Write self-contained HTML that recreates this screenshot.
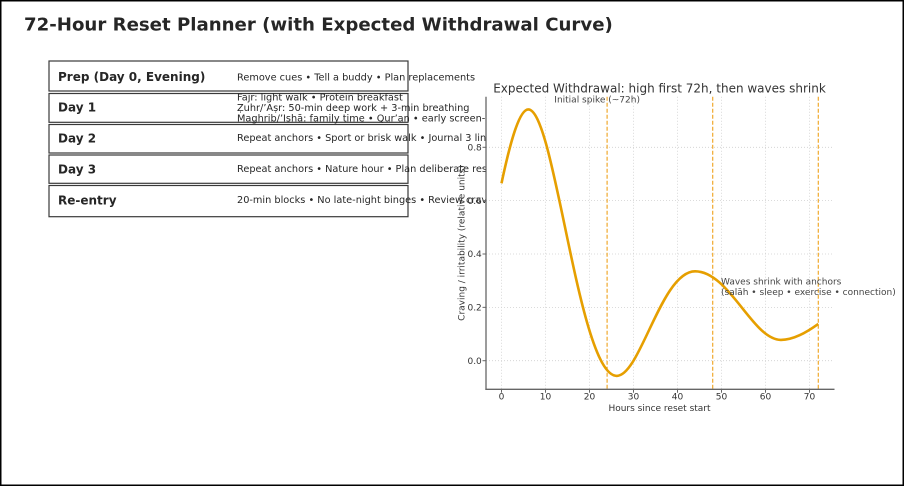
<!DOCTYPE html>
<html>
<head>
<meta charset="utf-8">
<style>
  html,body{margin:0;padding:0;background:#fff;}
  svg{display:block;}
  text{font-family:"DejaVu Sans","Liberation Sans",sans-serif;}
</style>
</head>
<body>
<svg width="904" height="486" viewBox="0 0 904 486" xmlns="http://www.w3.org/2000/svg">
  <rect x="0" y="0" width="904" height="486" fill="#fff"/>
  <rect x="0.75" y="0.75" width="902.5" height="484.5" fill="none" stroke="#000" stroke-width="1.5"/>

  <!-- Main title -->
  <text x="24" y="30.5" font-size="18.15" font-weight="bold" fill="#262626">72-Hour Reset Planner (with Expected Withdrawal Curve)</text>

  <!-- Table -->
  <g fill="none" stroke="#3a3a3a" stroke-width="1.2">
    <rect x="49" y="61" width="359" height="30"/>
    <rect x="49" y="93.5" width="359" height="28.8"/>
    <rect x="49" y="124.5" width="359" height="28.5"/>
    <rect x="49" y="155" width="359" height="28.3"/>
    <rect x="49" y="185.5" width="359" height="31.2"/>
  </g>
  <g font-size="12" font-weight="bold" fill="#262626">
    <text x="58" y="81">Prep (Day 0, Evening)</text>
    <text x="58" y="111.6">Day 1</text>
    <text x="58" y="142.6">Day 2</text>
    <text x="58" y="173.3">Day 3</text>
    <text x="58" y="204.3">Re-entry</text>
  </g>
  <g font-size="9.75" fill="#262626">
    <text x="237" y="80.3">Remove cues • Tell a buddy • Plan replacements</text>
    <text x="237" y="100.3">Fajr: light walk • Protein breakfast</text>
    <text x="237" y="110.9">Ẓuhr/’Aṣr: 50-min deep work + 3-min breathing</text>
    <text x="237" y="121.5">Maghrib/’Ishā: family time • Qur’an • early screen-off</text>
    <text x="237" y="141">Repeat anchors • Sport or brisk walk • Journal 3 lines</text>
    <text x="237" y="172">Repeat anchors • Nature hour • Plan deliberate rest</text>
    <text x="237" y="203">20-min blocks • No late-night binges • Review cravings</text>
  </g>

  <!-- Axes background (covers table overflow) -->
  <rect x="486" y="96.7" width="349" height="292.6" fill="#fff"/>

  <!-- Grid -->
  <g stroke="#cfcfcf" stroke-width="0.8" stroke-dasharray="1,2">
    <line x1="501.5" y1="96.7" x2="501.5" y2="389.3"/>
    <line x1="545.5" y1="96.7" x2="545.5" y2="389.3"/>
    <line x1="589.5" y1="96.7" x2="589.5" y2="389.3"/>
    <line x1="633.5" y1="96.7" x2="633.5" y2="389.3"/>
    <line x1="677.5" y1="96.7" x2="677.5" y2="389.3"/>
    <line x1="721.5" y1="96.7" x2="721.5" y2="389.3"/>
    <line x1="765.5" y1="96.7" x2="765.5" y2="389.3"/>
    <line x1="809.5" y1="96.7" x2="809.5" y2="389.3"/>
    <line x1="486" y1="360.7" x2="834" y2="360.7"/>
    <line x1="486" y1="307.35" x2="834" y2="307.35"/>
    <line x1="486" y1="254" x2="834" y2="254"/>
    <line x1="486" y1="200.65" x2="834" y2="200.65"/>
    <line x1="486" y1="147.3" x2="834" y2="147.3"/>
  </g>

  <!-- Dashed vertical lines -->
  <g stroke="#f0a92e" stroke-width="1.2" stroke-dasharray="4,2">
    <line x1="607.1" y1="96.7" x2="607.1" y2="389.3"/>
    <line x1="712.7" y1="96.7" x2="712.7" y2="389.3"/>
    <line x1="818.3" y1="96.7" x2="818.3" y2="389.3"/>
  </g>

  <!-- Curve -->
  <path d="M501.5,183.3 C510.4,141.3 519.4,109.4 528.3,109.4 C554.9,109.4 578.7,375.9 616.8,375.9 C640.3,375.9 661.4,271.3 695.1,271.3 C729.4,271.3 752.6,339.9 780.9,339.9 C793.4,339.9 805.8,332.8 818.3,323.9"
        fill="none" stroke="#e69f00" stroke-width="2.6" stroke-linecap="butt" stroke-linejoin="round"/>

  <!-- Spines -->
  <g stroke="#666" stroke-width="1.3">
    <line x1="486" y1="96.7" x2="486" y2="390"/>
    <line x1="485.4" y1="389.3" x2="834.5" y2="389.3"/>
  </g>
  <!-- Ticks -->
  <g stroke="#666" stroke-width="1">
    <line x1="501.5" y1="389.3" x2="501.5" y2="392.8"/>
    <line x1="545.5" y1="389.3" x2="545.5" y2="392.8"/>
    <line x1="589.5" y1="389.3" x2="589.5" y2="392.8"/>
    <line x1="633.5" y1="389.3" x2="633.5" y2="392.8"/>
    <line x1="677.5" y1="389.3" x2="677.5" y2="392.8"/>
    <line x1="721.5" y1="389.3" x2="721.5" y2="392.8"/>
    <line x1="765.5" y1="389.3" x2="765.5" y2="392.8"/>
    <line x1="809.5" y1="389.3" x2="809.5" y2="392.8"/>
    <line x1="482.5" y1="360.7" x2="486" y2="360.7"/>
    <line x1="482.5" y1="307.35" x2="486" y2="307.35"/>
    <line x1="482.5" y1="254" x2="486" y2="254"/>
    <line x1="482.5" y1="200.65" x2="486" y2="200.65"/>
    <line x1="482.5" y1="147.3" x2="486" y2="147.3"/>
  </g>
  <g font-size="9" fill="#333" text-anchor="middle">
    <text x="501.5" y="399.6">0</text>
    <text x="545.5" y="399.6">10</text>
    <text x="589.5" y="399.6">20</text>
    <text x="633.5" y="399.6">30</text>
    <text x="677.5" y="399.6">40</text>
    <text x="721.5" y="399.6">50</text>
    <text x="765.5" y="399.6">60</text>
    <text x="809.5" y="399.6">70</text>
  </g>
  <g font-size="9" fill="#333" text-anchor="end">
    <text x="481.8" y="363.9">0.0</text>
    <text x="481.8" y="310.6">0.2</text>
    <text x="481.8" y="257.2">0.4</text>
    <text x="481.8" y="203.9">0.6</text>
    <text x="481.8" y="150.5">0.8</text>
  </g>

  <!-- Axis labels -->
  <text x="659.5" y="411" font-size="9" fill="#333" text-anchor="middle">Hours since reset start</text>
  <text transform="translate(464.5,243) rotate(-90)" font-size="9" fill="#333" text-anchor="middle">Craving / irritability (relative units)</text>

  <!-- Chart title -->
  <text x="659.5" y="92.3" font-size="12" fill="#333" text-anchor="middle">Expected Withdrawal: high first 72h, then waves shrink</text>

  <!-- Annotations -->
  <text x="554.3" y="102.5" font-size="9" fill="#444">Initial spike (~72h)</text>
  <text x="721" y="284.5" font-size="9" fill="#444">Waves shrink with anchors</text>
  <text x="721" y="295" font-size="9" fill="#444">(salāh • sleep • exercise • connection)</text>
</svg>
</body>
</html>
